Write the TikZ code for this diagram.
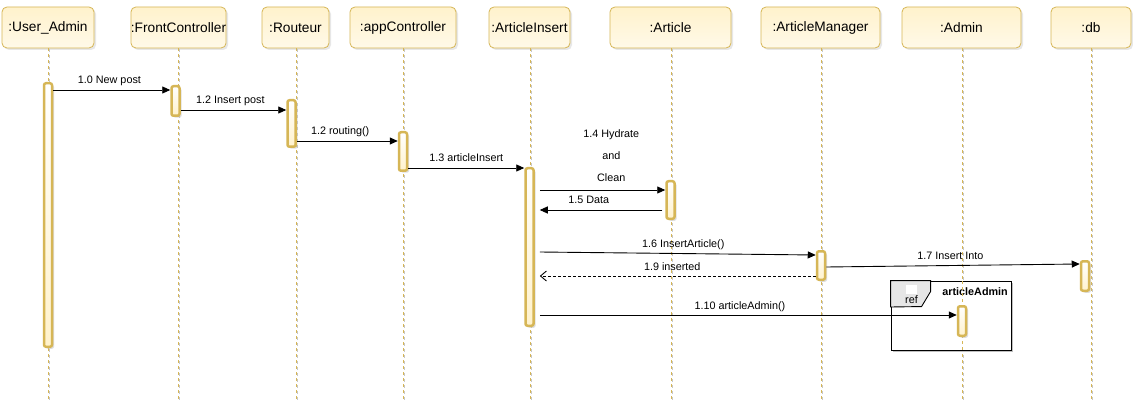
\documentclass[tikz,border=0pt]{standalone}
\usepackage{fontspec}
\setmainfont{Liberation Sans}
\usetikzlibrary{arrows.meta,shadows,calc}
\definecolor{gold}{HTML}{D6B656}
\definecolor{cream}{HTML}{FFF2CC}
\definecolor{tabgray}{HTML}{E6E6E6}
\begin{document}
\begin{tikzpicture}[x=1pt,y=-1pt,
 hdr/.style={rectangle, rounded corners=5pt, draw=gold, line width=0.8pt, top color=cream, bottom color=cream!45,
   minimum height=41pt, inner sep=0pt, font=\fontsize{13.7}{16}\selectfont,
   drop shadow={shadow xshift=2pt, shadow yshift=-2pt, fill=black!18}},
 lifeline/.style={draw=gold, dash pattern=on 3pt off 3pt, line width=0.8pt},
 lifeshadow/.style={draw=black!22, dash pattern=on 3pt off 3pt, line width=0.8pt},
 bar/.style={rectangle, rounded corners=2pt, draw=gold, line width=2.5pt, top color=white, bottom color=cream,
   minimum width=8pt, inner sep=0pt,
   drop shadow={shadow xshift=2pt, shadow yshift=-2pt, fill=black!25}},
 msg/.style={draw=black, line width=0.9pt, -{Triangle[length=8pt,width=7pt]}},
 ret/.style={draw=black, line width=0.9pt, dash pattern=on 3pt off 2pt, -{Straight Barb[length=6pt,width=10pt]}},
 lbl/.style={font=\fontsize{10.8}{13}\selectfont, inner sep=0pt, anchor=base, yshift=6pt}
]
\useasboundingbox (0,0) rectangle (1133,401);
\fill[white] (0,0) rectangle (1133,401);

% headers
\node[hdr, minimum width=92pt]  (h1) at (48,27.5)    {:User\_Admin};
\node[hdr, minimum width=95pt]  (h2) at (178.5,27.5) {:FrontController};
\node[hdr, minimum width=67pt]  (h3) at (295.5,27.5) {:Routeur};
\node[hdr, minimum width=106pt] (h4) at (403,27.5)   {:appController};
\node[hdr, minimum width=81pt]  (h5) at (529.5,27.5) {:ArticleInsert};
\node[hdr, minimum width=121pt] (h6) at (670.5,27.5) {:Article};
\node[hdr, minimum width=119pt] (h7) at (820.5,27.5) {:ArticleManager};
\node[hdr, minimum width=119pt] (h8) at (961.5,27.5) {:Admin};
\node[hdr, minimum width=80pt]  (h9) at (1091,27.5)  {:db};

% lifelines
\foreach \h/\x in {h1/48,h2/178,h3/296,h4/403,h5/530,h6/671,h7/821,h8/962,h9/1091}{
  \draw[lifeshadow] ([xshift=1.3pt]\x,49) -- ([xshift=1.3pt]\x,401);
  \draw[lifeline] (\h.south -| \x,0) -- (\x,401);
}

% activation bars
\node[bar, minimum height=263.5pt] (b1) at (48,215)    {};
\node[bar, minimum height=29.5pt]  (b2) at (175.5,101) {};
\node[bar, minimum height=46.5pt]  (b3) at (291.5,123.5) {};
\node[bar, minimum height=38.5pt]  (b4) at (403,151.5) {};
\node[bar, minimum height=157.5pt] (b5) at (529.5,247) {};
\node[bar, minimum height=37.5pt]  (b6) at (670.5,200) {};
\node[bar, minimum height=28.5pt]  (b7) at (821,265.5) {};
\node[bar, minimum height=29.5pt]  (b8) at (962,321)   {};
\node[bar, minimum height=29.5pt]  (b9) at (1085,276)  {};

\coordinate (b5e) at ([xshift=5pt]b5.east);
\coordinate (b6w) at ([xshift=-3pt]b6.west);

% ref frame
\fill[black!25] (893,283) rectangle (1013,352);
\node[draw=black, line width=0.9pt, fill=white, minimum width=120pt, minimum height=69pt, inner sep=0pt] (ref) at (951,315.5) {};
\draw[black, line width=0.9pt, fill=tabgray] (ref.north west) -- ++(40,0) -- ++(0,11) -- ++(-9,15) -- (ref.north west |- 0,307) -- cycle;
\fill[white] (906,285) rectangle (917,294);
\node[font=\fontsize{10.8}{13}\selectfont, inner sep=0pt] (reft) at (911.5,299.5) {ref};
\node[font=\fontsize{10.8}{13}\selectfont\bfseries, inner sep=0pt, anchor=east] (refn) at (1008,292) {articleAdmin};
% redraw Admin lifeline and bar over the frame
\draw[lifeline] (962,281) -- (962,350);
\node[bar, minimum height=29.5pt] (b8) at (962,321) {};

% messages
\draw[msg] (b1.east |- 0,90) -- node[lbl, pos=0.48] {1.0 New post} (b2.west |- 0,90);
\draw[msg] (b2.east |- 0,110) -- node[lbl, pos=0.47] {1.2 Insert post} (b3.west |- 0,110);
\draw[msg] (b3.east |- 0,141) -- node[lbl, pos=0.43] {1.2 routing()} (b4.west |- 0,141);
\draw[msg] (b4.east |- 0,168) -- node[lbl] {1.3 articleInsert} (b5.west |- 0,168);
\draw[msg] (b5e |- 0,190) -- node[font=\fontsize{10.8}{13}\selectfont, inner sep=0pt, align=center, pos=0.57, anchor=south, yshift=8pt]
   {1.4 Hydrate\\[9pt]and\\[9pt]Clean} (b6.west |- 0,190);
\draw[msg] (b6w |- 0,210) -- node[lbl, pos=0.6] {1.5 Data} (b5e |- 0,210);
\draw[msg] (b5e |- 0,252) -- node[lbl, pos=0.52] {1.6 InsertArticle()} (b7.west |- 0,255);
\draw[ret] (b7.west |- 0,276) -- node[lbl, pos=0.52] {1.9 inserted} (b5e |- 0,276);
\draw[msg] (b7.east |- 0,267) -- node[lbl, pos=0.49] {1.7 Insert Into} (b9.west |- 0,264);
\draw[msg] (b5e |- 0,315) -- node[lbl, pos=0.48] {1.10 articleAdmin()} (b8.west |- 0,315);
\end{tikzpicture}
\end{document}
